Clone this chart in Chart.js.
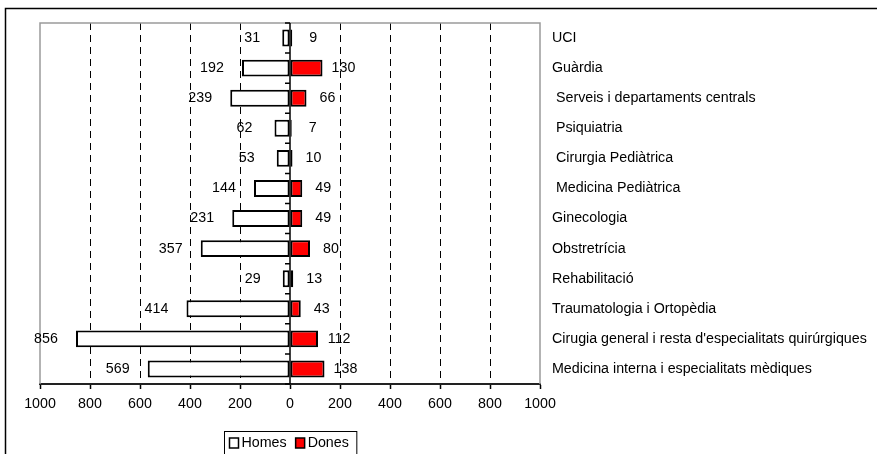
<!DOCTYPE html>
<html><head><meta charset="utf-8">
<script src="https://cdn.jsdelivr.net/npm/chart.js@4"></script>
<style>html,body{margin:0;padding:0;background:#fff;overflow:hidden}
#wrap{position:absolute;left:0;top:0;width:877px;height:454px}</style></head>
<body><div id="wrap"><canvas id="c" width="877" height="454"></canvas></div>
<script>
const categories = ['UCI', 'Guàrdia', ' Serveis i departaments centrals', ' Psiquiatria', ' Cirurgia Pediàtrica', ' Medicina Pediàtrica', 'Ginecologia', 'Obstretrícia', 'Rehabilitació', 'Traumatologia i Ortopèdia', "Cirugia general i resta d'especialitats quirúrgiques", 'Medicina interna i especialitats mèdiques'];
const homes = [31, 192, 239, 62, 53, 144, 231, 357, 29, 414, 856, 569];
const dones = [9, 130, 66, 7, 10, 49, 49, 80, 13, 43, 112, 138];
const seriesNames = ['Homes', 'Dones'];
const xMin = -1000, xMax = 1000, xStep = 200;

const FONT = '"Liberation Sans", Arial, sans-serif';
const FS = 14.25;

const decor = {
  id: 'decor',
  beforeDraw(chart) {
    const ctx = chart.ctx;
    ctx.save();
    ctx.fillStyle = '#fff';
    ctx.fillRect(0, 0, chart.width, chart.height);
    ctx.strokeStyle = '#000';
    ctx.lineWidth = 1.5;
    ctx.strokeRect(5.5, 8.5, 1000, 1000);
    ctx.restore();
  },
  beforeDatasetsDraw(chart) {
    const ctx = chart.ctx, a = chart.chartArea;
    const xs = chart.scales.x;
    ctx.save();
    ctx.strokeStyle = '#9a9a9a';
    ctx.lineWidth = 1.5;
    ctx.beginPath();
    ctx.moveTo(a.left, a.bottom); ctx.lineTo(a.left, a.top); ctx.lineTo(a.right, a.top); ctx.lineTo(a.right, a.bottom);
    ctx.stroke();
    const x0 = xs.getPixelForValue(0);
    ctx.strokeStyle = '#000';
    ctx.lineWidth = 1.5;
    ctx.beginPath();
    ctx.moveTo(x0, a.top); ctx.lineTo(x0, a.bottom);
    const n = categories.length;
    for (let i = 0; i <= n; i++) {
      const y = a.top + (a.bottom - a.top) * i / n;
      ctx.moveTo(x0 - 5, y); ctx.lineTo(x0, y);
    }
    ctx.stroke();
    ctx.restore();
  },
  afterDatasetsDraw(chart) {
    const ctx = chart.ctx;
    ctx.save();
    ctx.font = FS + 'px ' + FONT;
    ctx.fillStyle = '#000';
    ctx.textAlign = 'center';
    ctx.textBaseline = 'middle';
    const m0 = chart.getDatasetMeta(0), m1 = chart.getDatasetMeta(1);
    m0.data.forEach((el, i) => { ctx.fillText(String(homes[i]), el.x - 30, el.y); });
    m1.data.forEach((el, i) => { ctx.fillText(String(dones[i]), el.x + 21, el.y); });
    ctx.restore();
  },
  afterDraw(chart) {
    const ctx = chart.ctx;
    const ds = chart.data.datasets;
    ctx.save();
    ctx.font = FS + 'px ' + FONT;
    ctx.textBaseline = 'middle';
    ctx.textAlign = 'left';
    const w = [ctx.measureText(ds[0].label).width, ctx.measureText(ds[1].label).width];
    const box = 9, gap = 3, sp = 9, padL = 5, padR = 8;
    const total = padL + box + gap + w[0] + sp + box + gap + w[1] + padR;
    const cx = chart.scales.x.getPixelForValue(0);
    const left = Math.round(cx - total / 2) + 0.5;
    const top = 431.5, cy = 443;
    ctx.strokeStyle = '#000';
    ctx.lineWidth = 1;
    ctx.strokeRect(left, top, total, 40);
    let x = left + padL;
    for (let k = 0; k < 2; k++) {
      ctx.fillStyle = ds[k].backgroundColor;
      ctx.fillRect(x, cy - 5, box, 10);
      ctx.lineWidth = 1.5;
      ctx.strokeStyle = '#000';
      ctx.strokeRect(x, cy - 5, box, 10);
      x += box + gap;
      ctx.fillStyle = '#000';
      ctx.fillText(ds[k].label, x, cy);
      x += w[k] + sp;
    }
    ctx.restore();
  }
};

new Chart(document.getElementById('c'), {
  type: 'bar',
  data: {
    labels: categories,
    datasets: [
      { label: seriesNames[0], data: homes.map(v => -v), backgroundColor: '#ffffff', borderColor: '#000', borderWidth: 2, borderSkipped: false, barPercentage: 0.56, categoryPercentage: 1.0 },
      { label: seriesNames[1], data: dones, backgroundColor: '#ff0000', borderColor: '#000', borderWidth: 2, borderSkipped: false, barPercentage: 0.56, categoryPercentage: 1.0 }
    ]
  },
  options: {
    indexAxis: 'y',
    responsive: false,
    devicePixelRatio: 1,
    animation: false,
    layout: { padding: { top: 23, left: 40, right: 0, bottom: 0 } },
    plugins: { legend: { display: false }, tooltip: { enabled: false } },
    scales: {
      x: {
        stacked: true,
        min: xMin, max: xMax,
        ticks: { stepSize: xStep, color: '#000', font: { size: FS, family: FONT }, padding: 7, maxRotation: 0, autoSkip: false, callback: v => String(Math.abs(v)) },
        grid: {
          color: c => (c.tick && (c.tick.value === 0 || Math.abs(c.tick.value) === 1000)) ? 'rgba(0,0,0,0)' : '#000',
          lineWidth: 1, tickLength: 5, tickColor: '#000', tickBorderDash: [], tickWidth: 1.5
        },
        border: { display: true, color: '#222', width: 2, dash: [7, 5] },
        afterFit: s => { s.height = 70; }
      },
      y: {
        stacked: true,
        position: 'right',
        ticks: { color: '#000', font: { size: FS, family: FONT }, padding: 12, autoSkip: false },
        grid: { display: false, drawTicks: false },
        border: { display: false },
        afterFit: s => { s.width = 337; }
      }
    }
  },
  plugins: [decor]
});
</script></body></html>
